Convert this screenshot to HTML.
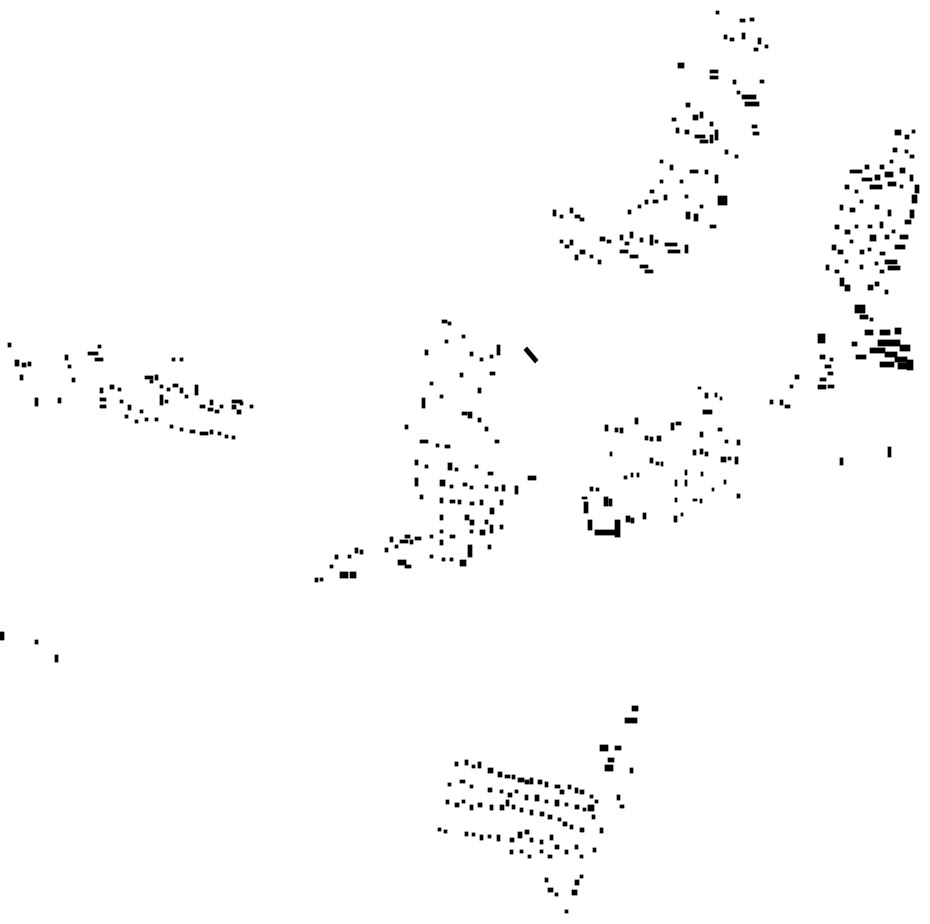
<!DOCTYPE html>
<html><head><style>html,body{margin:0;padding:0;background:#fff}svg{display:block}</style></head>
<body>
<svg width="930" height="924" viewBox="0 0 930 924" xmlns="http://www.w3.org/2000/svg">
<g fill="#000" stroke="#000" stroke-width="0.7">
<polygon points="524,350 527,347 538,360 535,363"/>
<path d="
M716 11h3v3h-3z M740 19h5v3h-5z M750 18h4v3h-4z M724 35h3v4h-3z M730 38h4v3h-4z M742 33h3v6h-3z M758 38h3v6h-3z M765 45h3v3h-3z M754 48h4v3h-4z M678 63h6v5h-6z M710 70h8v3h-8z M710 76h8v3h-8z M733 80h3v4h-3z M760 80h4v3h-4z M742 95h14v4h-14z M745 102h14v4h-14z M737 91h3v3h-3z M686 103h4v4h-4z M693 115h5v5h-5z M700 112h3v6h-3z M710 122h3v4h-3z M672 118h4v3h-4z M676 128h3v5h-3z M685 130h4v4h-4z M695 135h10v3h-10z M700 140h8v3h-8z M710 135h3v8h-3z M715 130h3v10h-3z M752 125h5v3h-5z M753 132h6v3h-6z M725 150h3v4h-3z M735 155h3v3h-3z M660 160h3v3h-3z M670 165h3v5h-3z M690 170h8v3h-8z M705 170h3v4h-3z M715 175h3v8h-3z M660 180h3v3h-3z M650 190h4v3h-4z M645 200h3v4h-3z M653 200h5v3h-5z M664 195h3v5h-3z M680 180h3v3h-3z M685 195h3v3h-3z M718 196h9v9h-9z M700 205h3v3h-3z M628 210h3v4h-3z M638 205h3v3h-3z M686 212h4v7h-4z M694 214h4v7h-4z M710 225h6v3h-6z M553 210h3v6h-3z M560 215h3v3h-3z M570 208h3v5h-3z M575 215h5v3h-5z M580 218h4v3h-4z M560 240h3v3h-3z M565 245h4v3h-4z M570 240h3v5h-3z M580 250h5v4h-5z M590 255h3v3h-3z M598 260h3v4h-3z M575 255h3v5h-3z M600 237h5v4h-5z M607 240h4v3h-4z M620 235h3v5h-3z M625 242h4v3h-4z M630 232h3v6h-3z M640 238h3v4h-3z M620 250h8v3h-8z M630 255h8v3h-8z M650 235h3v10h-3z M665 243h12v3h-12z M668 250h12v3h-12z M685 245h3v8h-3z M640 265h8v3h-8z M645 270h8v3h-8z M655 240h3v3h-3z
M895 130h6v5h-6z M905 135h4v4h-4z M912 130h3v3h-3z M893 148h4v4h-4z M905 150h3v3h-3z M910 155h4v3h-4z M890 160h3v3h-3z M880 165h4v4h-4z M865 165h4v4h-4z M850 170h12v3h-12z M862 178h10v3h-10z M875 175h5v5h-5z M885 172h8v5h-8z M900 168h5v5h-5z M910 175h3v6h-3z M845 185h4v4h-4z M855 190h3v3h-3z M870 185h12v4h-12z M888 182h8v4h-8z M900 185h3v3h-3z M915 185h4v8h-4z M912 195h5v8h-5z M840 205h3v5h-3z M850 208h5v4h-5z M860 200h3v3h-3z M875 205h4v4h-4z M888 210h3v6h-3z M910 210h4v8h-4z M905 220h6v4h-6z M835 225h4v4h-4z M845 230h5v4h-5z M855 225h3v3h-3z M868 225h4v3h-4z M880 222h3v6h-3z M870 235h6v6h-6z M885 235h4v4h-4z M892 230h3v3h-3z M900 235h8v4h-8z M895 245h10v4h-10z M832 245h4v5h-4z M838 250h5v4h-5z M850 240h3v3h-3z M860 250h4v4h-4z M868 248h3v3h-3z M880 252h5v3h-5z M885 260h12v4h-12z M888 266h12v4h-12z M826 265h3v5h-3z M835 270h4v3h-4z M845 260h3v3h-3z M860 265h3v4h-3z M875 262h3v3h-3z M880 270h4v3h-4z M840 278h4v8h-4z M845 285h5v6h-5z M868 285h5v5h-5z M875 282h4v4h-4z M885 290h3v4h-3z M855 305h10v8h-10z M860 315h8v4h-8z M870 318h3v3h-3z M865 330h8v5h-8z M880 330h10v5h-10z M895 328h6v6h-6z M878 340h12v6h-12z M890 340h10v6h-10z M900 345h10v6h-10z M870 348h15v5h-15z M885 352h12v5h-12z M895 357h12v5h-12z M852 342h5v4h-5z M856 355h10v4h-10z M880 362h14v5h-14z M898 363h10v6h-10z M907 360h6v10h-6z M818 334h7v9h-7z M820 355h5v4h-5z M825 365h6v3h-6z M828 372h5v3h-5z M820 378h6v3h-6z M818 385h8v4h-8z M828 385h6v3h-6z M830 358h3v3h-3z M795 375h4v4h-4z M790 385h3v3h-3z M780 400h3v5h-3z M770 400h3v4h-3z M785 405h5v3h-5z M840 458h3v7h-3z M888 447h3v10h-3z
M698 387h3v2h-3z M705 393h3v5h-3z M715 393h2v4h-2z M720 397h2v3h-2z M703 410h9v4h-9z M605 425h3v6h-3z M615 428h3v4h-3z M620 428h3v5h-3z M635 418h3v6h-3z M671 423h3v7h-3z M676 422h5v3h-5z M645 436h3v4h-3z M650 437h3v4h-3z M657 436h4v5h-4z M700 432h3v5h-3z M718 428h4v3h-4z M725 440h3v3h-3z M737 440h3v5h-3z M610 452h2v4h-2z M650 458h3v5h-3z M656 462h3v3h-3z M661 462h2v4h-2z M693 450h3v5h-3z M700 449h3v5h-3z M705 452h3v4h-3z M721 457h5v5h-5z M728 457h3v3h-3z M735 457h3v7h-3z M624 476h3v3h-3z M631 473h2v4h-2z M637 473h2v4h-2z M685 470h2v5h-2z M685 480h2v6h-2z M701 472h2v4h-2z M712 488h2v3h-2z M724 480h2v4h-2z M675 480h2v6h-2z M590 487h3v4h-3z M596 488h3v3h-3z M582 497h5v2h-5z M584 502h4v11h-4z M604 497h4v9h-4z M609 499h3v7h-3z M737 494h3v4h-3z M675 498h2v4h-2z M693 499h4v2h-4z M700 499h2v4h-2z M626 516h4v6h-4z M631 518h3v5h-3z M643 513h3v6h-3z M588 520h4v10h-4z M595 530h20v5h-20z M615 520h5v17h-5z M674 516h3v6h-3z M681 513h2v3h-2z
M442 320h5v3h-5z M448 322h3v3h-3z M425 350h3v5h-3z M445 340h3v3h-3z M462 335h3v3h-3z M470 352h3v4h-3z M480 358h3v3h-3z M490 355h3v3h-3z M497 345h3v10h-3z M430 382h3v3h-3z M460 373h3v4h-3z M490 372h5v3h-5z M422 398h3v10h-3z M440 395h3v3h-3z M478 388h3v5h-3z M462 412h5v3h-5z M468 412h4v6h-4z M478 418h3v4h-3z M405 425h3v4h-3z M420 440h8v3h-8z M436 444h3v3h-3z M445 445h5v3h-5z M485 427h3v4h-3z M495 440h4v3h-4z M415 460h3v5h-3z M425 465h3v3h-3z M448 463h4v7h-4z M455 468h3v3h-3z M475 465h3v3h-3z M488 472h5v3h-5z M528 476h8v4h-8z M415 478h3v8h-3z M440 480h5v6h-5z M450 485h3v3h-3z M463 483h4v3h-4z M470 486h3v3h-3z M485 485h3v3h-3z M495 487h3v4h-3z M502 485h3v6h-3z M515 486h3v8h-3z M420 495h3v4h-3z M440 498h3v5h-3z M450 500h5v3h-5z M458 500h3v4h-3z M470 502h4v3h-4z M480 500h3v5h-3z M490 508h4v6h-4z M500 500h3v5h-3z M440 515h3v5h-3z M465 515h4v5h-4z M470 520h4v5h-4z M485 520h3v4h-3z M490 525h3v8h-3z M440 530h3v3h-3z M450 535h5v3h-5z M470 530h3v3h-3z M480 530h5v5h-5z M500 525h3v4h-3z M390 537h3v5h-3z M395 545h3v3h-3z M400 540h8v3h-8z M405 535h5v3h-5z M410 540h3v4h-3z M415 537h6v3h-6z M430 535h3v3h-3z M385 548h3v4h-3z M440 540h3v5h-3z M468 545h4v12h-4z M488 545h3v4h-3z M460 560h6v6h-6z M450 558h3v3h-3z M398 560h8v5h-8z M405 565h6v3h-6z M430 555h3v3h-3z M442 558h3v3h-3z M355 548h3v5h-3z M360 550h3v4h-3z M348 555h3v3h-3z M335 555h3v4h-3z M330 565h3v3h-3z M340 572h8v6h-8z M350 572h6v6h-6z M315 578h3v4h-3z M320 578h3v3h-3z
M8 343h3v4h-3z M15 360h4v6h-4z M22 363h4v4h-4z M28 362h3v4h-3z M20 375h3v5h-3z M35 398h3v8h-3z M58 398h3v5h-3z M65 355h3v5h-3z M68 365h3v3h-3z M72 378h3v4h-3z M88 352h10v3h-10z M95 358h8v3h-8z M98 345h3v3h-3z M100 388h3v5h-3z M100 398h6v3h-6z M100 405h6v3h-6z M110 385h4v4h-4z M118 388h3v3h-3z M120 400h3v3h-3z M128 405h3v5h-3z M140 410h3v3h-3z M145 376h8v3h-8z M150 380h3v3h-3z M155 375h3v5h-3z M160 385h3v3h-3z M160 395h3v10h-3z M165 400h3v3h-3z M172 358h3v3h-3z M180 358h3v3h-3z M167 388h3v3h-3z M173 384h5v3h-5z M180 388h3v5h-3z M185 395h3v3h-3z M195 385h3v10h-3z M200 405h5v3h-5z M208 408h5v3h-5z M210 400h3v5h-3z M215 410h4v3h-4z M220 405h3v3h-3z M232 405h4v4h-4z M237 410h4v4h-4z M232 400h10v3h-10z M240 402h3v3h-3z M250 405h3v3h-3z M155 418h3v3h-3z M170 425h3v3h-3z M180 428h3v3h-3z M190 430h5v3h-5z M200 432h8v3h-8z M210 430h3v4h-3z M218 432h3v3h-3z M225 435h3v3h-3z M232 436h3v3h-3z M125 415h3v3h-3z M135 420h3v3h-3z M145 418h3v3h-3z M0 632h4v8h-4z M35 640h3v4h-3z M55 655h3v7h-3z
M632 706h6v5h-6z M625 718h12v5h-12z M600 745h8v6h-8z M615 746h6v4h-6z M608 758h6v4h-6z M605 765h8v6h-8z M630 768h3v5h-3z M455 762h3v4h-3z M465 760h3v5h-3z M472 765h3v3h-3z M478 762h3v6h-3z M488 768h5v5h-5z M498 772h4v5h-4z M505 775h5v3h-5z M512 775h3v4h-3z M518 778h6v4h-6z M525 780h4v4h-4z M530 778h3v6h-3z M538 780h4v4h-4z M545 782h3v5h-3z M555 785h5v3h-5z M560 790h4v4h-4z M568 785h3v4h-3z M575 788h3v5h-3z M580 790h4v4h-4z M590 795h3v3h-3z M595 800h3v3h-3z M448 783h3v3h-3z M460 780h5v3h-5z M470 785h3v3h-3z M488 788h4v4h-4z M500 790h3v3h-3z M508 793h4v4h-4z M515 790h3v3h-3z M525 795h3v5h-3z M535 795h4v6h-4z M545 800h3v3h-3z M555 800h4v6h-4z M565 803h3v3h-3z M575 805h4v4h-4z M583 808h3v3h-3z M588 805h6v6h-6z M617 795h3v5h-3z M620 805h4v3h-4z M446 800h3v4h-3z M455 803h4v4h-4z M462 800h3v3h-3z M470 805h3v5h-3z M478 803h4v4h-4z M490 805h3v5h-3z M500 805h4v5h-4z M506 800h3v6h-3z M512 805h3v4h-3z M520 808h3v4h-3z M530 810h3v5h-3z M540 812h4v4h-4z M548 815h4v4h-4z M558 818h3v3h-3z M563 822h4v4h-4z M570 825h3v4h-3z M580 828h4v4h-4z M592 815h3v4h-3z M600 828h3v5h-3z M438 828h3v3h-3z M444 830h3v3h-3z M465 832h3v4h-3z M472 833h3v3h-3z M480 835h3v5h-3z M488 835h3v3h-3z M497 835h3v6h-3z M510 838h4v4h-4z M518 832h4v6h-4z M525 830h4v4h-4z M530 838h3v4h-3z M540 840h3v4h-3z M550 835h3v5h-3z M555 845h4v4h-4z M565 850h3v4h-3z M575 845h3v4h-3z M580 855h3v3h-3z M593 848h3v4h-3z M540 850h3v3h-3z M548 855h4v3h-4z M528 855h3v3h-3z M520 850h3v3h-3z M510 850h3v4h-3z M545 878h3v4h-3z M548 888h5v4h-5z M555 893h3v3h-3z M575 880h4v5h-4z M572 890h5v5h-5z M580 875h3v3h-3z M565 910h3v3h-3z
"/>
</g>
</svg>
</body></html>
